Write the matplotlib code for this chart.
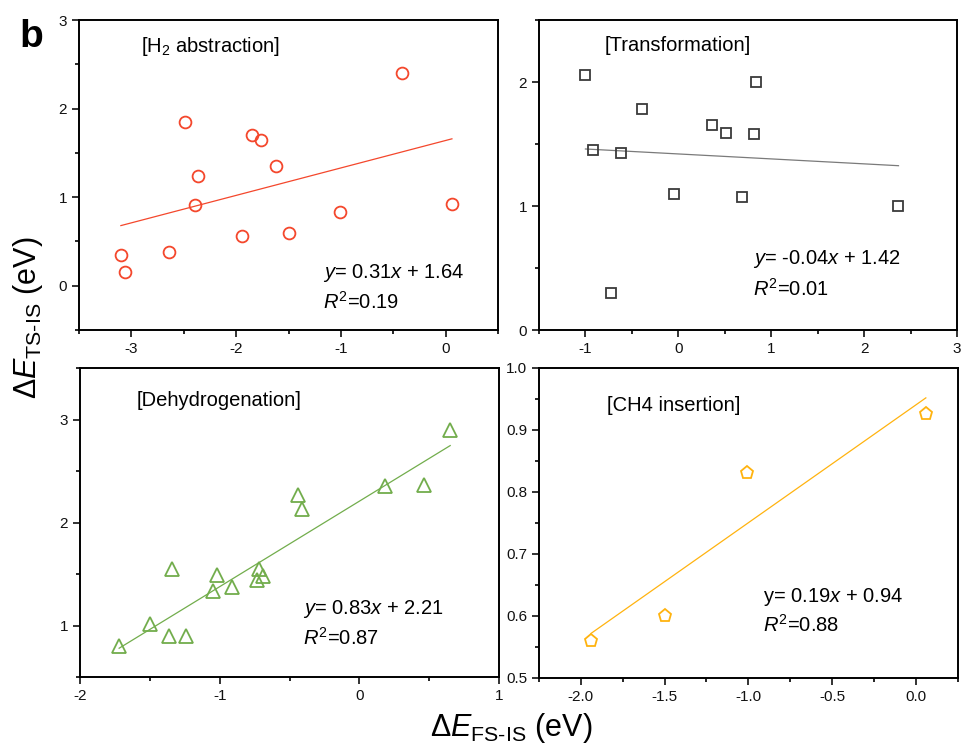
import numpy as np
import matplotlib
matplotlib.use("Agg")
import matplotlib.pyplot as plt
from matplotlib.ticker import MultipleLocator

plt.rcParams['font.family'] = ['Liberation Sans', 'DejaVu Sans']
plt.rcParams['mathtext.fontset'] = 'custom'
plt.rcParams['mathtext.rm'] = 'Liberation Sans'
plt.rcParams['mathtext.it'] = 'Liberation Sans:italic'
plt.rcParams['mathtext.bf'] = 'Liberation Sans:bold'
plt.rcParams['axes.unicode_minus'] = False

# data
h2_x = [-3.10, -3.06, -2.64, -2.49, -2.36, -2.39, -1.94, -1.85, -1.76, -1.62, -1.50, -1.01, -0.42, 0.06]
h2_y = [0.35, 0.15, 0.38, 1.85, 1.24, 0.91, 0.56, 1.70, 1.65, 1.35, 0.60, 0.83, 2.40, 0.92]

tr_x = [-1.00, -0.92, -0.73, -0.62, -0.39, -0.05, 0.36, 0.51, 0.69, 0.81, 0.84, 2.37]
tr_y = [2.06, 1.45, 0.30, 1.43, 1.78, 1.10, 1.65, 1.59, 1.07, 1.58, 2.00, 1.00]

dh_x = [-1.72, -1.50, -1.36, -1.24, -1.34, -1.02, -1.05, -0.91, -0.72, -0.73, -0.69, -0.44, -0.41, 0.18, 0.46, 0.65]
dh_y = [0.80, 1.02, 0.90, 0.90, 1.55, 1.49, 1.34, 1.38, 1.55, 1.44, 1.48, 2.27, 2.13, 2.36, 2.37, 2.90]

ch_x = [-1.94, -1.50, -1.01, 0.06]
ch_y = [0.56, 0.60, 0.83, 0.925]

# fitted lines as printed in the panels
slopes = [0.31, -0.04, 0.83, 0.19]
intercepts = [1.64, 1.42, 2.21, 0.94]
titles = ['[H$_2$ abstraction]', '[Transformation]', '[Dehydrogenation]', '[CH4 insertion]']
eqs = [r'$y$= 0.31$x$ + 1.64', r'$y$= -0.04$x$ + 1.42', r'$y$= 0.83$x$ + 2.21', r'y= 0.19$x$ + 0.94']
r2 = [r'$R^2$=0.19', r'$R^2$=0.01', r'$R^2$=0.87', r'$R^2$=0.88']

fig = plt.figure(figsize=(9.62, 7.47), dpi=100)
boxes = [[0.0821, 0.5582, 0.4356, 0.415],
         [0.5603, 0.5582, 0.4345, 0.415],
         [0.0832, 0.0933, 0.4356, 0.4137],
         [0.5603, 0.0927, 0.4352, 0.415]]
xs = [h2_x, tr_x, dh_x, ch_x]
ys = [h2_y, tr_y, dh_y, ch_y]
colors = ['#f4472c', '#3a3a3a', '#72ad4c', '#ffb30f']
linecolors = ['#f4472c', '#7a7a7a', '#72ad4c', '#ffb30f']
markers = ['o', 's', '^', 'p']
msizes = [8.5, 7.5, 10, 9.5]
xlims = [(-3.5, 0.5), (-1.5, 3), (-2, 1), (-2.25, 0.25)]
ylims = [(-0.5, 3), (0, 2.5), (0.5, 3.5), (0.5, 1.0)]
xmaj = [1, 1, 1, 0.5]
ymaj = [1, 1, 1, 0.1]
title_pos = [(0.148, 0.916), (0.158, 0.917), (0.135, 0.897), (0.162, 0.877)]
eq_pos = [(0.582, 0.184, 0.09), (0.513, 0.229, 0.132), (0.532, 0.22, 0.128), (0.534, 0.261, 0.17)]

for i in range(4):
    ax = fig.add_axes(boxes[i])
    x = np.array(xs[i])
    xx = np.array([x.min(), x.max()])
    ax.plot(xx, slopes[i] * xx + intercepts[i], color=linecolors[i], lw=0.9)
    ax.plot(x, ys[i], linestyle='none', marker=markers[i], ms=msizes[i],
            mfc='none', mec=colors[i], mew=1.3)
    ax.set_xlim(xlims[i])
    ax.set_ylim(ylims[i])
    ax.xaxis.set_major_locator(MultipleLocator(xmaj[i]))
    ax.xaxis.set_minor_locator(MultipleLocator(xmaj[i] / 2))
    ax.yaxis.set_major_locator(MultipleLocator(ymaj[i]))
    ax.yaxis.set_minor_locator(MultipleLocator(ymaj[i] / 2))
    if i == 3:
        ax.xaxis.set_major_formatter('{x:.1f}')
        ax.yaxis.set_major_formatter('{x:.1f}')
    else:
        ax.xaxis.set_major_formatter('{x:.0f}')
        ax.yaxis.set_major_formatter('{x:.0f}')
    ax.tick_params(which='major', direction='out', length=5, width=1.2, labelsize=11, colors='#111111')
    ax.tick_params(which='minor', direction='out', length=3, width=1.2)
    for s in ax.spines.values():
        s.set_linewidth(1.4)
    ax.text(title_pos[i][0], title_pos[i][1], titles[i], transform=ax.transAxes,
            fontsize=14.5, va='center', ha='left')
    ax.text(eq_pos[i][0], eq_pos[i][1], eqs[i], transform=ax.transAxes,
            fontsize=14.5, va='center', ha='left')
    ax.text(eq_pos[i][0], eq_pos[i][2], r2[i], transform=ax.transAxes,
            fontsize=14.5, va='center', ha='left')

fig.text(0.033, 0.951, 'b', fontsize=28, fontweight='bold', va='center', ha='center')
fig.text(0.029, 0.574, r'$\Delta E_{\mathrm{TS\text{-}IS}}$ (eV)', rotation=90,
         fontsize=22, va='center', ha='center')
fig.text(0.531, 0.025, r'$\Delta E_{\mathrm{FS\text{-}IS}}$ (eV)',
         fontsize=22, va='center', ha='center')

fig.savefig('out.png', dpi=100)
